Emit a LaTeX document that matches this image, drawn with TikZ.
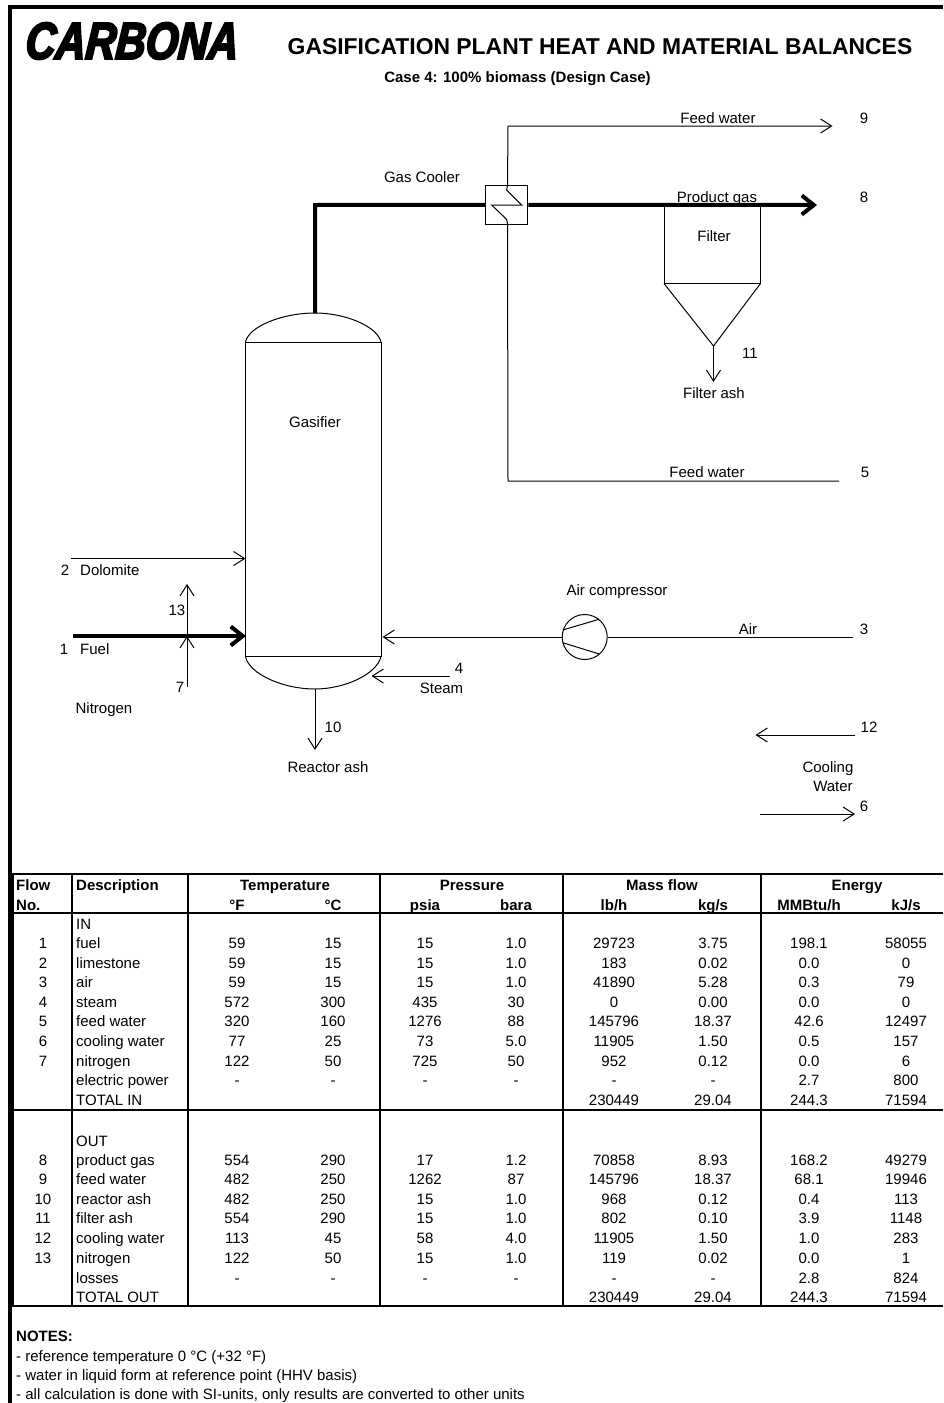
\documentclass[tikz,border=0pt]{standalone}
\usetikzlibrary{arrows.meta}
\usepackage{fontspec}
\setmainfont{Liberation Sans}
\newfontfamily\logofont[FakeBold=4,FakeStretch=0.8,FakeSlant=0.08]{Liberation Sans Bold Italic}
\tikzset{
  lab/.style={inner sep=0pt,anchor=base,yshift=-5.3pt},
  labl/.style={inner sep=0pt,anchor=base west,yshift=-5.3pt},
  flow/.style={line width=1pt,-{Straight Barb[length=11pt,width=14pt,line width=1pt]}},
  pipe/.style={line width=1pt},
  bigflow/.style={line width=4pt,-{Straight Barb[length=12pt,width=19pt,line width=4pt]}},
  bigpipe/.style={line width=4pt,line join=miter},
  rule/.style={line width=2pt},
  heavy/.style={line width=4pt}
}
\begin{document}
\begin{tikzpicture}[x=1pt,y=-1pt,font=\fontsize{15}{18}\selectfont]
\useasboundingbox (0,0) rectangle (943,1403);
% ---- sheet frame and heading ----
\draw[heavy] (10,1403) -- (10,6.7) -- (943,6.7);
\node[inner sep=0pt] (logo) at (131,41) {\logofont\fontsize{52}{56}\selectfont CARBONA};
\node[inner sep=0pt] (title) at (600,47) {\fontsize{22.9}{26}\selectfont\bfseries GASIFICATION PLANT HEAT AND MATERIAL BALANCES};
\node[inner sep=0pt] (subtitle) at (517.5,79) {\fontsize{15}{18}\selectfont\bfseries Case 4: 100\% biomass (Design Case)};
% ---- gasifier vessel ----
\coordinate (gastl) at (245.5,342);
\coordinate (gastr) at (381,342);
\coordinate (gasbl) at (245.5,656.5);
\coordinate (gasbr) at (381,656.5);
\coordinate (gastop) at (315,313);
\coordinate (gasbot) at (315,689);
\draw[pipe] (gastl) rectangle (gasbr);
\draw[pipe] (gastl) .. controls (249,326) and (283,313) .. (gastop) .. controls (345,313) and (377,326) .. (gastr);
\draw[pipe] (gasbl) .. controls (249,674) and (283,689) .. (gasbot) .. controls (345,689) and (377,674) .. (gasbr);
\node[lab] (gasifier) at (315,422) {Gasifier};
% ---- gas cooler and filter ----
\node[draw,line width=1pt,inner sep=0pt,minimum width=42pt,minimum height=39pt] (cooler) at (506.75,204.75) {};
\node[lab] (coolerlab) at (422,177) {Gas Cooler};
\coordinate (coilin) at (507.5,224);
\coordinate (coilout) at (507.5,185);
\draw[pipe] (coilout) -- (506.7,190) -- (521.7,205) -- (491.7,205) -- (506.7,219.5) -- (coilin);
\coordinate (ftl) at (664,205);
\coordinate (ftr) at (760.5,205);
\coordinate (fbl) at (664,283.5);
\coordinate (fbr) at (760.5,283.5);
\coordinate (fapex) at (713.5,346);
\draw[pipe] (ftl) -- (fbl) -- (fbr) -- (ftr);
\draw[pipe,line join=miter] (fbl) -- (fapex) -- (fbr);
\node[lab] (filter) at (714,236) {Filter};
% ---- air compressor ----
\node[draw,circle,line width=1pt,inner sep=0pt,minimum size=45pt] (comp) at (584.7,637) {};
\draw[pipe] (562.7,630) -- (599,619.3);
\draw[pipe] (562.7,642.7) -- (599.3,654);
\node[lab] (complab) at (617,590) {Air compressor};
% ---- labels ----
\node[lab] (fwtoplab) at (718,118) {Feed water};
\node[lab] (n9) at (864,118) {9};
\node[lab] (pglab) at (717,197) {Product gas};
\node[lab] (n8) at (864,197) {8};
\node[lab] (n11) at (750,353) {11};
\node[lab] (falab) at (714,393) {Filter ash};
\node[lab] (fwlab) at (707,472) {Feed water};
\node[lab] (n5) at (865,472) {5};
\node[lab] (airlab) at (748,629) {Air};
\node[lab] (n3) at (864,629) {3};
\node[lab] (n12) at (869,727) {12};
\node[lab] (cool) at (828,767) {Cooling};
\node[lab] (wat) at (833,786) {Water};
\node[lab] (n6) at (864,806) {6};
\node[lab] (n2) at (65,570) {2};
\node[labl] (dollab) at (80,570) {Dolomite};
\node[lab] (n1) at (64,649) {1};
\node[labl] (fuellab) at (80,649) {Fuel};
\node[lab] (n13) at (177,610) {13};
\node[lab] (n7) at (180,687) {7};
\node[lab] (nitlab) at (104,708) {Nitrogen};
\node[lab] (n4) at (459,668) {4};
\node[lab] (steamlab) at (441.5,688) {Steam};
\node[lab] (n10) at (333,727) {10};
\node[lab] (ralab) at (328,767) {Reactor ash};
% ---- streams ----
\coordinate (fwtopc) at (508,126);
\coordinate (fwtopend) at (832.5,126);
\coordinate (fwc) at (508,481);
\coordinate (fwstart) at (839,481);
\draw[flow] (coilout) -- (fwtopc) -- (fwtopend);
\draw[pipe] (fwstart) -- (fwc) -- (coilin);
\coordinate (pipec) at (315,205);
\coordinate (gasend) at (817,205);
\draw[bigpipe] (gastop) -- (pipec) -- (cooler.west);
\draw[bigflow] (cooler.east) -- (gasend);
\coordinate (faend) at (713.5,382);
\draw[flow] (fapex) -- (faend);
\coordinate (dolstart) at (71,558.5);
\coordinate (dolend) at (245.5,558.5);
\draw[flow] (dolstart) -- (dolend);
\coordinate (fuelstart) at (73,636);
\coordinate (fuelend) at (246,636);
\coordinate (nitstart) at (187,687);
\coordinate (nitmid) at (187,636);
\coordinate (nitend) at (187,584);
\draw[flow] (nitmid) -- (nitend);
\draw[flow] (nitstart) -- (nitmid);
\draw[bigflow] (fuelstart) -- (fuelend);
\coordinate (airstart) at (853,637);
\coordinate (airend) at (382.5,637);
\draw[pipe] (airstart) -- (comp.east);
\draw[flow] (comp.west) -- (airend);
\coordinate (steamstart) at (450,676);
\coordinate (steamend) at (371.5,676);
\draw[flow] (steamstart) -- (steamend);
\coordinate (ashend) at (315,750);
\draw[flow] (gasbot) -- (ashend);
\coordinate (cwoutstart) at (855,735);
\coordinate (cwoutend) at (755.5,735);
\draw[flow] (cwoutstart) -- (cwoutend);
\coordinate (cwinstart) at (760,814);
\coordinate (cwinend) at (855,814);
\draw[flow] (cwinstart) -- (cwinend);
% ---- table rules ----
\draw[heavy] (12,873.5) -- (12,1306);
\foreach \y in {873.5,912.5,1109.5,1305.5}{
  \draw[rule] (12,\y) -- (943,\y);
}
\foreach \x in {72,187.5,380,562.7,760.7}{
  \draw[rule] (\x,873.5) -- (\x,1305.5);
}
% ---- table heading ----
\begin{scope}[every node/.style={lab,font=\fontsize{15}{18}\selectfont\bfseries}]
\node[anchor=base west] (hflow) at (16,885) {Flow};
\node[anchor=base west] (hno) at (16,905) {No.};
\node[anchor=base west] (hdesc) at (76,885) {Description};
\node (htemp) at (285,885) {Temperature};
\node (hpres) at (472,885) {Pressure};
\node (hmass) at (662,885) {Mass flow};
\node (henergy) at (857,885) {Energy};
\foreach \x/\t [count=\n] in {237/°F,333/°C,425/psia,516/bara,614/lb\slash h,713/kg\slash s,809/MMBtu\slash h,906/kJ\slash s}{
  \node (unit\n) at (\x,905) {\t};
}
\end{scope}
% ---- table body ----
\node[labl] (inlab) at (76,924) {IN};
\node[labl] (outlab) at (76,1141) {OUT};
\foreach \y/\flowno/\desc/\tf/\tc/\psia/\bara/\lbh/\kgs/\btu/\kjs [count=\n] in {
  943/1/fuel/59/15/15/1.0/29723/3.75/198.1/58055,
  963/2/limestone/59/15/15/1.0/183/0.02/0.0/0,
  982.5/3/air/59/15/15/1.0/41890/5.28/0.3/79,
  1002/4/steam/572/300/435/30/0/0.00/0.0/0,
  1021.5/5/feed water/320/160/1276/88/145796/18.37/42.6/12497,
  1041.5/6/cooling water/77/25/73/5.0/11905/1.50/0.5/157,
  1061/7/nitrogen/122/50/725/50/952/0.12/0.0/6,
  1080.5//electric power/-/-/-/-/-/-/2.7/800,
  1100//TOTAL IN/////230449/29.04/244.3/71594,
  1160/8/product gas/554/290/17/1.2/70858/8.93/168.2/49279,
  1179/9/feed water/482/250/1262/87/145796/18.37/68.1/19946,
  1199/10/reactor ash/482/250/15/1.0/968/0.12/0.4/113,
  1218.5/11/filter ash/554/290/15/1.0/802/0.10/3.9/1148,
  1238/12/cooling water/113/45/58/4.0/11905/1.50/1.0/283,
  1258/13/nitrogen/122/50/15/1.0/119/0.02/0.0/1,
  1278//losses/-/-/-/-/-/-/2.8/824,
  1297//TOTAL OUT/////230449/29.04/244.3/71594}{
  \node[lab] (fl\n) at (43,\y) {\flowno};
  \node[labl] (ds\n) at (76,\y) {\desc};
  \node[lab] (tf\n) at (237,\y) {\tf};
  \node[lab] (tc\n) at (333,\y) {\tc};
  \node[lab] (ps\n) at (425,\y) {\psia};
  \node[lab] (ba\n) at (516,\y) {\bara};
  \node[lab] (lb\n) at (614,\y) {\lbh};
  \node[lab] (kg\n) at (713,\y) {\kgs};
  \node[lab] (bt\n) at (809,\y) {\btu};
  \node[lab] (kj\n) at (906,\y) {\kjs};
}
% ---- notes ----
\node[labl] (notes) at (16,1336) {\bfseries NOTES:};
\node[labl] (note1) at (16,1356) {- reference temperature 0 °C (+32 °F)};
\node[labl] (note2) at (16,1375) {- water in liquid form at reference point (HHV basis)};
\node[labl] (note3) at (16,1394) {- all calculation is done with SI-units, only results are converted to other units};
\end{tikzpicture}
\end{document}
